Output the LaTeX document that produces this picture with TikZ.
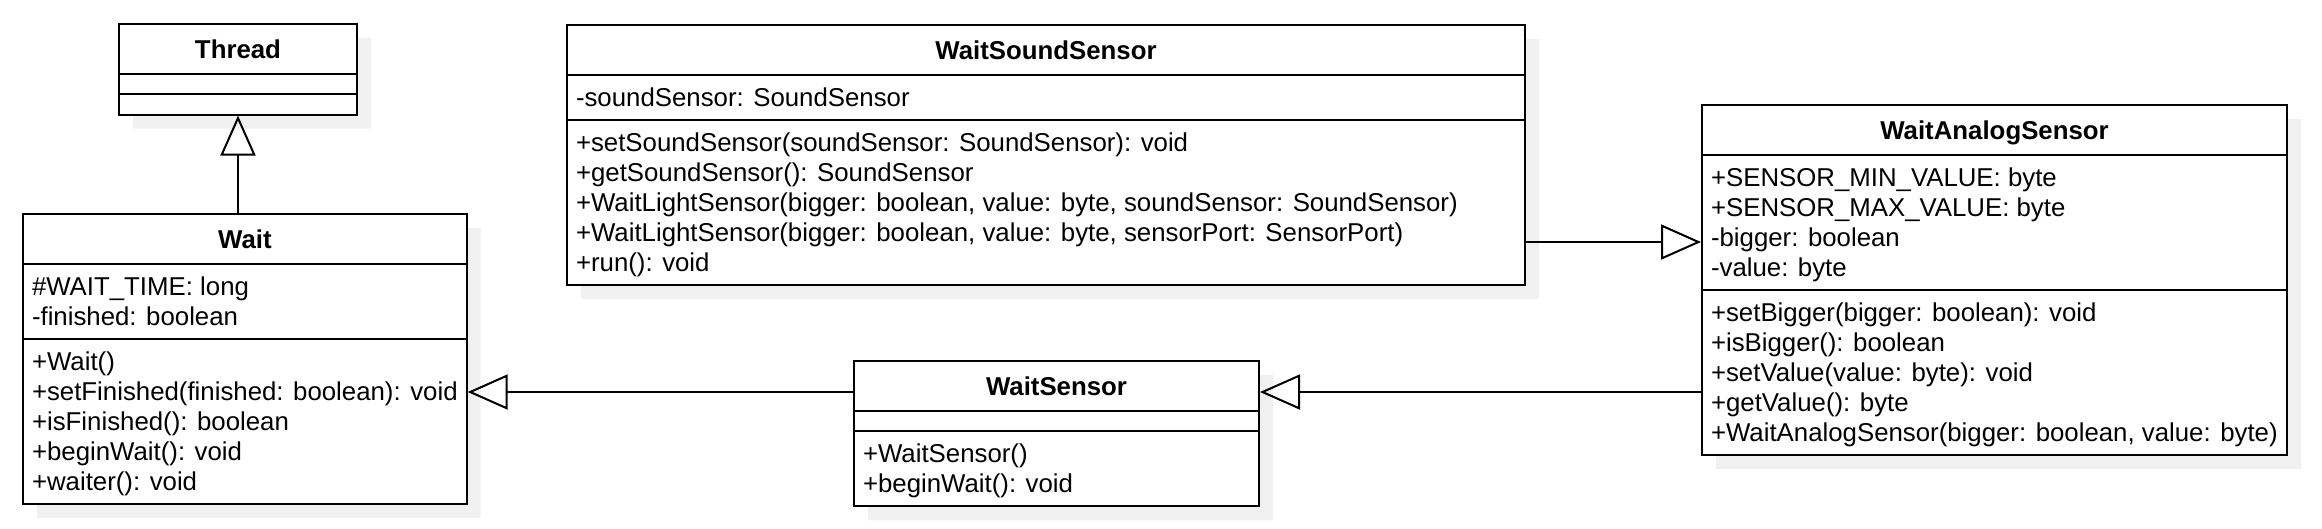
\documentclass[tikz,border=0pt]{standalone}
\usepackage{fontspec}
\setmainfont{Liberation Sans}
\usetikzlibrary{arrows.meta,shapes.multipart,shadows}

\newcommand{\linestrut}{\rule[-6pt]{0pt}{30pt}}
\newcommand{\titlestrut}{\rule[-8.5pt]{0pt}{35pt}}

\tikzset{
umlclass/.style={rectangle split, rectangle split parts=3, draw, line width=2pt, fill=white,
  font=\fontsize{25.8}{30}\selectfont, align=left, inner xsep=9pt, inner ysep=6.5pt,
  rectangle split part align={center,left,left},
  rectangle split empty part height=2pt, rectangle split empty part depth=0pt,
  anchor=north west,
  drop shadow={shadow xshift=14pt, shadow yshift=-14pt, fill=black!6, opacity=1}},
extends/.style={-{Triangle[open,length=40pt,width=35pt]}, line width=2pt}
}

\begin{document}
\begin{tikzpicture}[x=1pt,y=1pt]
\useasboundingbox (0,0) rectangle (2322,-528);

\node[umlclass, minimum width=238pt] (thread) at (118,-23)
{\titlestrut\textbf{Thread} \nodepart{second} \nodepart{third}};

\node[umlclass, minimum width=442pt] (wait) at (22,-213)
{\titlestrut\textbf{Wait}
\nodepart{second}\linestrut\#WAIT\_TIME: long\\
\linestrut-finished: boolean
\nodepart{third}\linestrut+Wait()\\
\linestrut+setFinished(finished: boolean): void\\
\linestrut+isFinished(): boolean\\
\linestrut+beginWait(): void\\
\linestrut+waiter(): void};

\node[umlclass, minimum width=958pt] (wsound) at (566,-24)
{\titlestrut\textbf{WaitSoundSensor}
\nodepart{second}\linestrut-soundSensor: SoundSensor
\nodepart{third}\linestrut+setSoundSensor(soundSensor: SoundSensor): void\\
\linestrut+getSoundSensor(): SoundSensor\\
\linestrut+WaitLightSensor(bigger: boolean, value: byte, soundSensor: SoundSensor)\\
\linestrut+WaitLightSensor(bigger: boolean, value: byte, sensorPort: SensorPort)\\
\linestrut+run(): void};

\node[umlclass, minimum width=405pt] (wsensor) at (853,-360)
{\titlestrut\textbf{WaitSensor}
\nodepart{second}
\nodepart{third}\linestrut+WaitSensor()\\
\linestrut+beginWait(): void};

\node[umlclass, minimum width=585pt] (wanalog) at (1701,-104)
{\titlestrut\textbf{WaitAnalogSensor}
\nodepart{second}\linestrut+SENSOR\_MIN\_VALUE: byte\\
\linestrut+SENSOR\_MAX\_VALUE: byte\\
\linestrut-bigger: boolean\\
\linestrut-value: byte
\nodepart{third}\linestrut+setBigger(bigger: boolean): void\\
\linestrut+isBigger(): boolean\\
\linestrut+setValue(value: byte): void\\
\linestrut+getValue(): byte\\
\linestrut+WaitAnalogSensor(bigger: boolean, value: byte)};

% generalisations
\draw[extends] (wait.north -| thread.south) -- (thread.south);
\draw[extends] ([yshift=-32pt]wsensor.north west) coordinate (ws) -- (ws -| wait.east);
\draw[extends] (ws -| wanalog.west) -- (ws -| wsensor.east);
\draw[extends] ([yshift=-218pt]wsound.north east) coordinate (wss) -- (wss -| wanalog.west);
\end{tikzpicture}
\end{document}
